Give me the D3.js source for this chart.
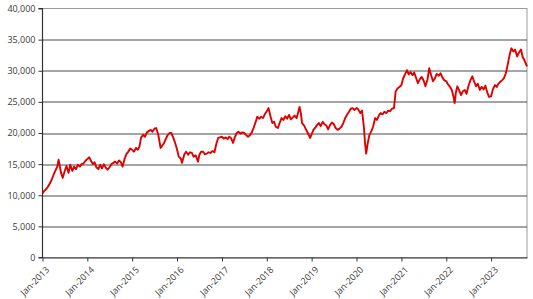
<!DOCTYPE html>
<html>
<head>
<meta charset="utf-8">
<script src="https://cdn.jsdelivr.net/npm/d3@7"></script>
<style>
  body { margin: 0; background: #fff; }
  svg { display: block; font-family: "Open Sans", "DejaVu Sans", sans-serif; }
</style>
</head>
<body>
<svg id="chart" width="533" height="299"></svg>
<script>
// semi-monthly readings of the index
const dates = [
  "2013-01-01","2013-01-15","2013-02-01","2013-02-15","2013-03-01","2013-03-15","2013-04-01","2013-04-15","2013-05-01","2013-05-12","2013-06-01","2013-06-15","2013-07-01","2013-07-15","2013-08-01","2013-08-15","2013-09-01","2013-09-15","2013-10-01","2013-10-15","2013-11-01","2013-11-15","2013-12-01","2013-12-15",
  "2014-01-01","2014-01-15","2014-02-01","2014-02-15","2014-03-01","2014-03-15","2014-04-01","2014-04-15","2014-05-01","2014-05-15","2014-06-01","2014-06-15","2014-07-01","2014-07-15","2014-08-01","2014-08-15","2014-09-01","2014-09-15","2014-10-01","2014-10-15","2014-11-01","2014-11-15","2014-12-01","2014-12-15",
  "2015-01-01","2015-01-15","2015-02-01","2015-02-15","2015-03-01","2015-03-15","2015-04-01","2015-04-15","2015-05-01","2015-05-15","2015-06-01","2015-06-15","2015-07-01","2015-07-15","2015-08-01","2015-08-20","2015-09-01","2015-09-15","2015-10-01","2015-10-15","2015-11-01","2015-11-15","2015-12-01","2015-12-15",
  "2016-01-01","2016-01-15","2016-02-01","2016-02-10","2016-03-01","2016-03-15","2016-04-01","2016-04-15","2016-05-01","2016-05-15","2016-06-01","2016-06-20","2016-07-01","2016-07-15","2016-08-01","2016-08-15","2016-09-01","2016-09-15","2016-10-01","2016-10-15","2016-11-01","2016-11-15","2016-12-01","2016-12-15",
  "2017-01-01","2017-01-15","2017-02-01","2017-02-15","2017-03-01","2017-03-15","2017-04-01","2017-04-15","2017-05-01","2017-05-15","2017-06-01","2017-06-15","2017-07-01","2017-07-15","2017-08-01","2017-08-15","2017-09-01","2017-09-15","2017-10-01","2017-10-15","2017-11-01","2017-11-15","2017-12-01","2017-12-15",
  "2018-01-01","2018-01-15","2018-02-01","2018-02-15","2018-03-01","2018-03-15","2018-04-01","2018-04-15","2018-05-01","2018-05-15","2018-06-01","2018-06-15","2018-07-01","2018-07-15","2018-08-01","2018-08-15","2018-09-01","2018-09-25","2018-10-05","2018-10-15","2018-11-01","2018-11-15","2018-12-01","2018-12-20",
  "2019-01-01","2019-01-15","2019-02-01","2019-02-15","2019-03-01","2019-03-15","2019-04-01","2019-04-15","2019-05-01","2019-05-15","2019-06-01","2019-06-15","2019-07-01","2019-07-15","2019-08-01","2019-08-15","2019-09-01","2019-09-15","2019-10-01","2019-10-15","2019-11-01","2019-11-15","2019-12-01","2019-12-15",
  "2020-01-01","2020-01-15","2020-02-01","2020-02-15","2020-03-01","2020-03-10","2020-03-20","2020-04-01","2020-04-15","2020-05-01","2020-05-15","2020-06-01","2020-06-15","2020-07-01","2020-07-15","2020-08-01","2020-08-15","2020-09-01","2020-09-15","2020-10-01","2020-10-15","2020-11-01","2020-11-15","2020-12-01","2020-12-15",
  "2021-01-01","2021-01-15","2021-02-01","2021-02-15","2021-03-01","2021-03-15","2021-04-01","2021-04-15","2021-05-01","2021-05-15","2021-06-01","2021-06-15","2021-07-01","2021-07-15","2021-08-01","2021-08-15","2021-09-01","2021-09-15","2021-10-01","2021-10-15","2021-11-01","2021-11-15","2021-12-01","2021-12-15",
  "2022-01-01","2022-01-15","2022-02-01","2022-02-15","2022-03-01","2022-03-10","2022-03-20","2022-04-01","2022-04-15","2022-05-01","2022-05-15","2022-06-01","2022-06-15","2022-07-01","2022-07-15","2022-08-01","2022-08-15","2022-09-01","2022-09-15","2022-10-01","2022-10-15","2022-11-01","2022-11-15","2022-12-01","2022-12-15",
  "2023-01-01","2023-01-15","2023-02-01","2023-02-15","2023-03-01","2023-03-15","2023-04-01","2023-04-15","2023-05-01","2023-05-15","2023-06-01","2023-06-15","2023-07-01","2023-07-15","2023-08-01","2023-08-15","2023-09-01","2023-09-15","2023-10-01","2023-10-20"
];

const values = [
  10300,10700,11000,11400,11900,12400,13300,13900,14600,15700,13600,12800,13900,14700,13600,14900,13900,14600,14200,14900,14600,15000,15100,15500,
  15800,16100,15500,15000,15300,14500,14200,14900,14300,15000,14400,14100,14500,15000,15200,15400,15100,15600,15300,14600,15900,16600,17000,17500,
  17300,17000,17600,17300,17800,19300,19700,19400,20100,20300,20500,20200,20700,20800,19800,17600,17900,18300,19000,19600,20000,20000,19300,18500,
  17400,16200,15900,15200,16600,17000,16500,16900,16800,16200,16400,15400,16500,17000,17000,16600,16700,16900,16800,17100,16900,18200,19200,19300,
  19400,19100,19300,19000,19400,19200,18400,19300,20000,20200,19900,20100,20000,19700,19400,19600,20100,20800,21700,22600,22300,22600,22400,23000,
  23500,24000,22600,21600,21800,21000,20800,21600,22400,22100,22700,22300,22900,22200,22500,22800,22400,24200,23200,21600,21200,20600,20000,19200,
  19800,20500,20900,21300,21600,21100,21800,21400,21200,20600,21300,21700,21400,20800,20500,20700,21000,21600,22400,22900,23400,23900,24000,23700,
  24000,23800,23200,23600,21000,18500,16700,18300,19700,20300,21000,22400,22100,22800,23200,23000,23400,23200,23600,23500,23900,24000,26700,27200,27400,
  27700,28800,29500,30100,29400,29800,29300,29700,28800,28000,28700,29000,28400,27500,28600,30400,29200,28300,28800,29500,29200,29600,28900,28500,
  28300,27800,27400,26900,25800,24800,26500,27500,26900,26100,26700,26900,26300,27600,28400,29100,28300,27500,27900,26900,27400,27000,27600,26500,25800,
  25900,27000,27700,27400,27900,28200,28500,28800,29600,30900,32600,33600,33100,33400,32300,32900,33400,32200,31600,30700
];

const yTicks = [0, 5000, 10000, 15000, 20000, 25000, 30000, 35000, 40000];
const xTickYears = [2013, 2014, 2015, 2016, 2017, 2018, 2019, 2020, 2021, 2022, 2023];

const parse = d3.timeParse("%Y-%m-%d");
const series = dates.map((d, i) => ({ date: parse(d), value: values[i] }));

const margin = { top: 8.5, right: 6, bottom: 41.5, left: 42.5 };
const W = 533, H = 299;
const innerW = W - margin.left - margin.right;
const innerH = H - margin.top - margin.bottom;

const svg = d3.select("#chart");
const g = svg.append("g").attr("transform", `translate(${margin.left},${margin.top})`);

const x = d3.scaleTime()
    .domain([parse("2013-01-01"), parse("2023-10-20")])
    .range([0, innerW]);

const y = d3.scaleLinear()
    .domain([0, 40000])
    .range([innerH, 0]);

// plot frame (light grey top / right)
g.append("rect")
    .attr("x", 0).attr("y", 0)
    .attr("width", innerW).attr("height", innerH)
    .attr("fill", "none")
    .attr("stroke", "#9a9a9a")
    .attr("stroke-width", 1);

// gridlines
g.selectAll("line.grid")
    .data(yTicks.filter(t => t > 0 && t < 40000))
    .enter().append("line")
    .attr("class", "grid")
    .attr("x1", 0).attr("x2", innerW)
    .attr("y1", d => Math.round(y(d)) + 0.5)
    .attr("y2", d => Math.round(y(d)) + 0.5)
    .attr("stroke", "#4a4a4a")
    .attr("stroke-width", 1);

// y axis
const yAxis = g.append("g")
    .call(d3.axisLeft(y)
        .tickValues(yTicks)
        .tickSize(4)
        .tickPadding(3)
        .tickFormat(d3.format(",")));

// x axis
const xAxis = g.append("g")
    .attr("transform", `translate(0,${innerH})`)
    .call(d3.axisBottom(x)
        .tickValues(xTickYears.map(yr => new Date(yr, 0, 1)))
        .tickSize(4)
        .tickSizeOuter(0)
        .tickFormat(d3.timeFormat("Jan-%Y")));

xAxis.selectAll("text")
    .attr("text-anchor", "end")
    .attr("dx", "0")
    .attr("dy", "0")
    .attr("transform", "translate(2,8) rotate(-45)");

[yAxis, xAxis].forEach(a => {
    a.select(".domain").attr("stroke", "#333").attr("stroke-width", 1.2);
    a.selectAll(".tick line").attr("stroke", "#333");
    a.selectAll("text")
        .attr("fill", "#3a3a3a")
        .style("font-size", "9px")
        .style("font-family", "'Open Sans', sans-serif");
});
yAxis.select(".domain").attr("d", `M-4,${innerH}H0V0H-4`);

// line
const line = d3.line()
    .x(d => x(d.date))
    .y(d => y(d.value));

g.append("path")
    .datum(series)
    .attr("fill", "none")
    .attr("stroke", "#e00000")
    .attr("stroke-width", 1.9)
    .attr("stroke-linejoin", "round")
    .attr("d", line);
</script>
</body>
</html>
